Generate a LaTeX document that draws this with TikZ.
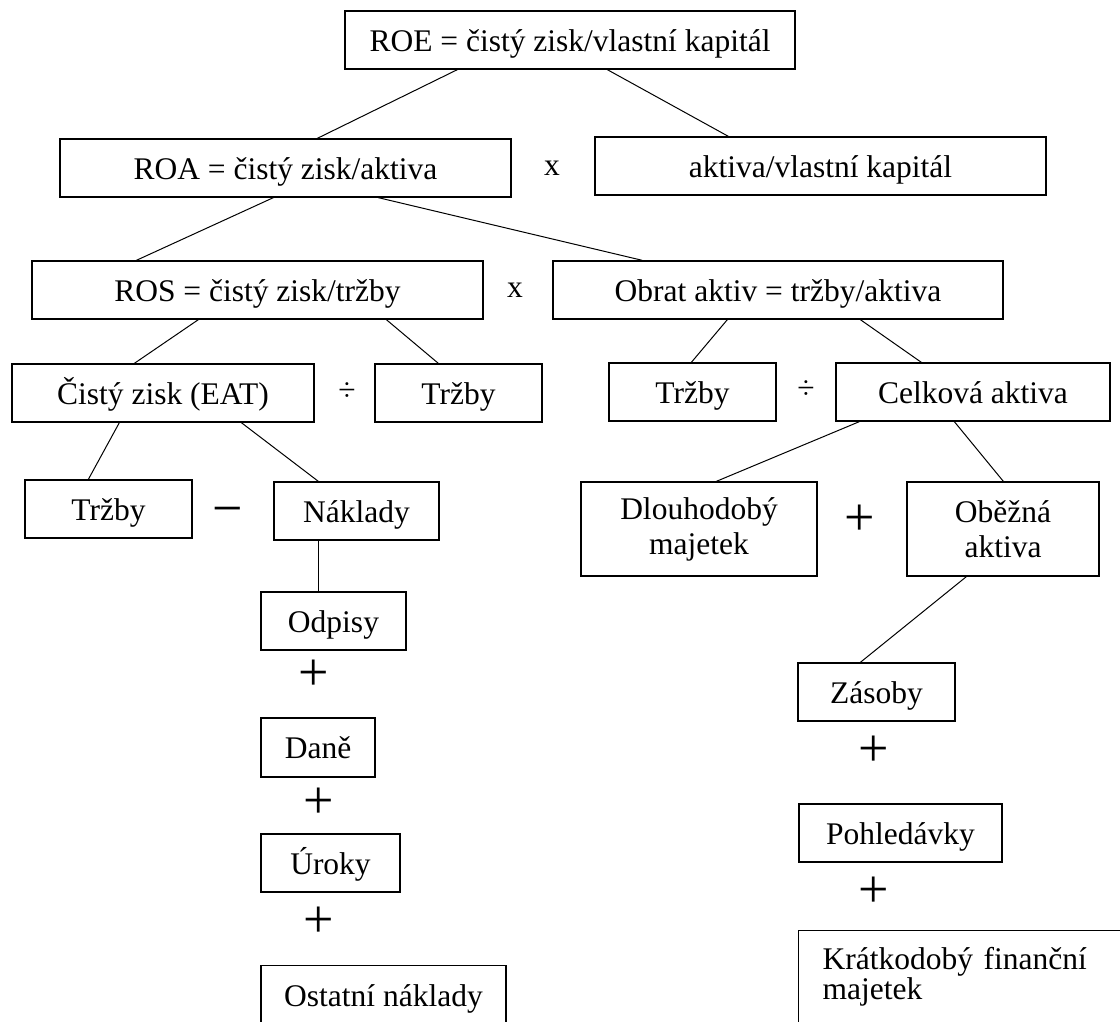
\documentclass[tikz,border=0pt]{standalone}
\usepackage{fontspec}
\setmainfont{Liberation Serif}
\usetikzlibrary{calc}
\begin{document}
\begin{tikzpicture}[x=1pt,y=-1pt,
  box/.style={draw,line width=1.3pt,rectangle,inner sep=0pt,font=\fontsize{31.5}{35}\selectfont},
  onebox/.style={box,text height=22.5pt,text depth=0pt},
  op/.style={inner sep=0pt,font=\fontsize{31.5}{35}\selectfont},
  bigop/.style={inner sep=0pt,font=\fontsize{54}{60}\selectfont},
  link/.style={line width=1pt}]
\useasboundingbox (0,0) rectangle (1120,1021);
\clip (0,0) rectangle (1120,1021);
% level 1
\node[onebox,minimum width=450pt,minimum height=58pt] (roe) at (570,40) {ROE = čistý zisk/vlastní kapitál};
% level 2
\node[onebox,minimum width=451pt,minimum height=58pt] (roa) at (285.5,168) {ROA = čistý zisk/aktiva};
\node[onebox,minimum width=451pt,minimum height=58pt] (avk) at (820.5,166) {aktiva/vlastní kapitál};
\node[op] (x1) at (552,168) {x};
% level 3
\node[onebox,minimum width=451pt,minimum height=58pt] (ros) at (257.5,290) {ROS = čistý zisk/tržby};
\node[onebox,minimum width=450pt,minimum height=58pt] (obrat) at (778,290) {Obrat aktiv = tržby/aktiva};
\node[op] (x2) at (515,290) {x};
% level 4
\node[onebox,minimum width=302pt,minimum height=58pt] (cz) at (163,393) {Čistý zisk (EAT)};
\node[onebox,minimum width=167pt,minimum height=58pt] (trz1) at (458.5,393) {Tržby};
\node[op] (div1) at (347,392) {÷};
\node[onebox,minimum width=167pt,minimum height=58pt] (trz3) at (692.5,392) {Tržby};
\node[onebox,minimum width=274pt,minimum height=58pt] (cel) at (973,392) {Celková aktiva};
\node[op] (div2) at (806,390) {÷};
% level 5
\node[onebox,minimum width=167pt,minimum height=58pt] (trz2) at (108.5,509) {Tržby};
\node[onebox,minimum width=165pt,minimum height=58pt] (nak) at (356.5,511) {Náklady};
\node[bigop] (minus) at (228,517) {−};
\node[box,minimum width=236pt,minimum height=94pt,align=center] (dlo) at (699,529) {Dlouhodobý\\majetek};
\node[box,minimum width=192pt,minimum height=94pt,align=center] (obe) at (1003,529) {Oběžná\\aktiva};
\node[bigop] (plus0) at (860,520) {+};
% costs column
\node[onebox,minimum width=145pt,minimum height=58pt] (odp) at (333.5,621) {Odpisy};
\node[bigop] (plus1) at (314,675) {+};
\node[onebox,minimum width=114pt,minimum height=59pt] (dan) at (318,747.5) {Daně};
\node[bigop] (plus2) at (319,803) {+};
\node[onebox,minimum width=139pt,minimum height=58pt] (uro) at (330.5,863) {Úroky};
\node[bigop] (plus3) at (319,922) {+};
\node[onebox,minimum width=245pt,minimum height=60pt,anchor=north] (ost) at (383.5,965) {Ostatní náklady};
% current assets column
\node[onebox,minimum width=157pt,minimum height=58pt] (zas) at (876.5,692) {Zásoby};
\node[bigop] (plus4) at (874,751) {+};
\node[onebox,minimum width=203pt,minimum height=58pt] (poh) at (900.5,833) {Pohledávky};
\node[bigop] (plus5) at (874,892) {+};
\node[box,anchor=north west,text width=340pt,inner xsep=24pt,inner ysep=17pt,text depth=70pt,align=left,font=\fontsize{31.5}{28}\selectfont] (kra) at (798,930) {Krátkodobý finanční\\majetek};
% connectors
\draw[link] ($(roe.south west)+(113,0)$) -- ($(roa.north west)+(258,0)$);
\draw[link] ($(roe.south west)+(263,0)$) -- ($(avk.north west)+(134,0)$);
\draw[link] ($(roa.south west)+(214,0)$) -- ($(ros.north west)+(105,0)$);
\draw[link] ($(roa.south west)+(319,0)$) -- ($(obrat.north west)+(90,0)$);
\draw[link] ($(ros.south west)+(167,0)$) -- ($(cz.north west)+(123,0)$);
\draw[link] ($(ros.south west)+(355,0)$) -- ($(trz1.north west)+(64,0)$);
\draw[link] ($(obrat.south west)+(175,0)$) -- ($(trz3.north west)+(83,0)$);
\draw[link] ($(obrat.south west)+(308,0)$) -- ($(cel.north west)+(86,0)$);
\draw[link] ($(cz.south west)+(108,0)$) -- ($(trz2.north west)+(64,0)$);
\draw[link] ($(cz.south west)+(230,0)$) -- ($(nak.north west)+(45,0)$);
\draw[link] ($(nak.south west)+(45,0)$) -- ($(odp.north west)+(58,0)$);
\draw[link] ($(cel.south west)+(24,0)$) -- ($(dlo.north west)+(136,0)$);
\draw[link] ($(cel.south west)+(119,0)$) -- ($(obe.north west)+(97,0)$);
\draw[link] ($(obe.south west)+(60,0)$) -- ($(zas.north west)+(63,0)$);
\end{tikzpicture}
\end{document}
